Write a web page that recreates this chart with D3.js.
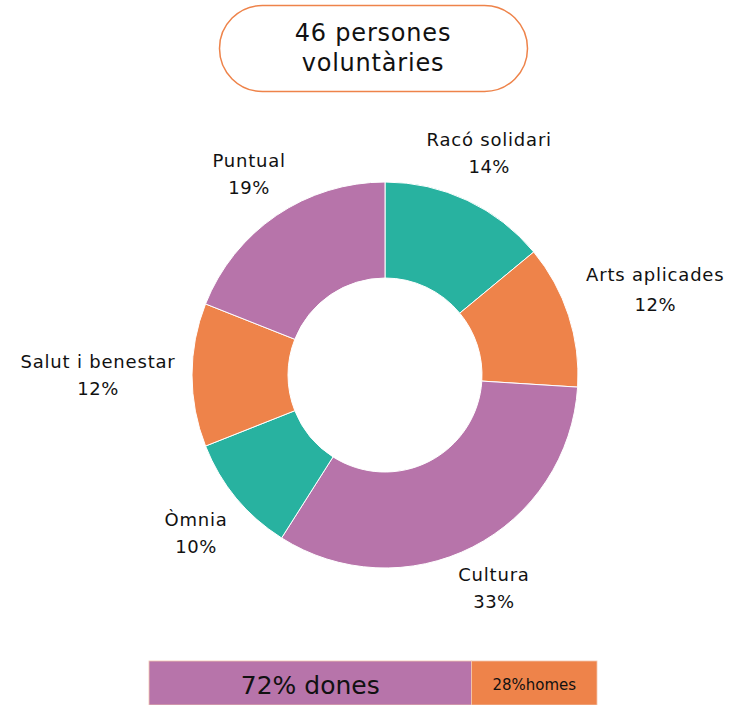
<!DOCTYPE html>
<html>
<head>
<meta charset="utf-8">
<script src="https://cdn.jsdelivr.net/npm/d3@7"></script>
<style>
  body { margin: 0; background: #fff; }
  svg text { font-family: "DejaVu Sans", "Noto Sans", sans-serif; fill: #111; }
</style>
</head>
<body>
<div id="chart"></div>
<script>
/* DATA */
const areas = ["Racó solidari", "Arts aplicades", "Cultura", "Òmnia", "Salut i benestar", "Puntual"];
const shares = [14, 12, 33, 10, 12, 19];
const areaColors = ["#28B2A0", "#EE834A", "#B774AA", "#28B2A0", "#EE834A", "#B774AA"];
const totalLabel = ["46 persones", "voluntàries"];
const genders = ["dones", "homes"];
const genderShares = [72, 28];
const genderColors = ["#B774AA", "#EE834A"];

/* LAYOUT */
const width = 745, height = 705;
const cx = 385, cy = 375, outerR = 193, innerR = 97, labelR = 240;
// nudges so labels sit where the original put them
const labelNudge = [[2, -5], [42, -13], [0, -1], [-4, 5], [-47, 0], [-1, -3]];

const svg = d3.select("#chart").append("svg")
  .attr("width", width)
  .attr("height", height);

// title pill
const pill = svg.append("g");
pill.append("rect")
  .attr("x", 219.5).attr("y", 5.5)
  .attr("width", 308).attr("height", 86)
  .attr("rx", 43).attr("ry", 43)
  .attr("fill", "#fff")
  .attr("stroke", "#EE834A")
  .attr("stroke-width", 1.5);
pill.selectAll("text")
  .data(totalLabel)
  .join("text")
  .attr("x", 373)
  .attr("y", (d, i) => 41 + i * 30)
  .attr("text-anchor", "middle")
  .attr("font-size", 24)
  .attr("letter-spacing", 0.8)
  .text(d => d);

// donut
const pie = d3.pie().sort(null).value(d => d);
const arcs = pie(shares);
const arc = d3.arc().innerRadius(innerR).outerRadius(outerR);
const labelArc = d3.arc().innerRadius(labelR).outerRadius(labelR);

const g = svg.append("g").attr("transform", `translate(${cx},${cy})`);
g.selectAll("path")
  .data(arcs)
  .join("path")
  .attr("d", arc)
  .attr("fill", (d, i) => areaColors[i])
  .attr("stroke", "#fff")
  .attr("stroke-width", 1);

const labels = g.selectAll("g.lbl")
  .data(arcs)
  .join("g")
  .attr("class", "lbl")
  .attr("transform", (d, i) => {
    const [x, y] = labelArc.centroid(d);
    return `translate(${x + labelNudge[i][0]},${y + labelNudge[i][1]})`;
  });
labels.append("text")
  .attr("text-anchor", "middle")
  .attr("y", -7)
  .attr("font-size", 18)
  .attr("letter-spacing", 0.8)
  .text((d, i) => areas[i]);
labels.append("text")
  .attr("text-anchor", "middle")
  .attr("y", (d, i) => i === 1 ? 23 : 20)
  .attr("font-size", 18)
  .attr("letter-spacing", 0.5)
  .text(d => d.data + "%");

// gender bar
const xBar = d3.scaleLinear().domain([0, 100]).range([149, 597]);
const stacked = genderShares.map((v, i) => ({
  start: d3.sum(genderShares.slice(0, i)),
  value: v,
  name: genders[i]
}));
const bar = svg.append("g");
bar.selectAll("rect")
  .data(stacked)
  .join("rect")
  .attr("x", d => xBar(d.start))
  .attr("y", 661)
  .attr("width", d => xBar(d.start + d.value) - xBar(d.start))
  .attr("height", 44)
  .attr("fill", (d, i) => genderColors[i])
  .attr("stroke", "#f3c7b0")
  .attr("stroke-width", 0.8);
bar.selectAll("text")
  .data(stacked)
  .join("text")
  .attr("x", d => xBar(d.start + d.value / 2))
  .attr("y", (d, i) => i === 0 ? 694 : 690)
  .attr("text-anchor", "middle")
  .attr("font-size", (d, i) => i === 0 ? 25 : 15)
  .text((d, i) => i === 0 ? `${d.value}% ${d.name}` : `${d.value}%${d.name}`);
</script>
</body>
</html>
